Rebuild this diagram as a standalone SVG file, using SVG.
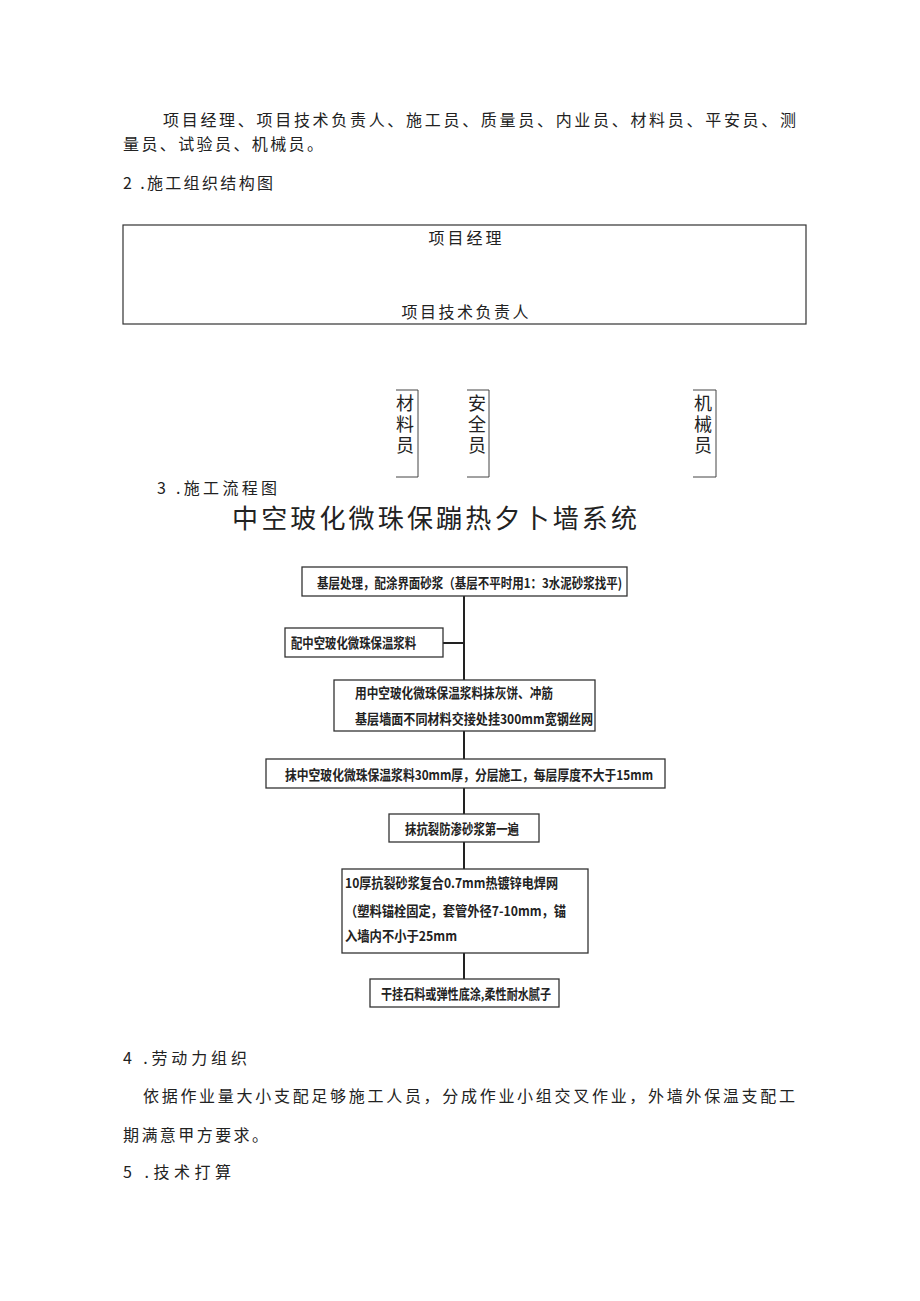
<svg xmlns="http://www.w3.org/2000/svg" width="920" height="1301" viewBox="0 0 920 1301">
<style>
.t{font-family:"Noto Sans CJK SC","Noto Sans CJK JP",sans-serif;fill:#222;font-size:16px}
.f{font-family:"Noto Sans CJK SC","Noto Sans CJK JP",sans-serif;fill:#222;font-size:13.5px;font-weight:bold}
.v{font-family:"Noto Sans CJK SC","Noto Sans CJK JP",sans-serif;fill:#222;font-size:18px;writing-mode:vertical-rl;letter-spacing:3px}
.b{fill:#fff;stroke:#333;stroke-width:1.3}
.c{fill:none;stroke:#222;stroke-width:2}
.o{fill:none;stroke:#444;stroke-width:1}
</style>
<rect width="920" height="1301" fill="#fff"/>
<g id="text-top">
<text class="t" x="163" y="126" textLength="633" lengthAdjust="spacing">项目经理、项目技术负责人、施工员、质量员、内业员、材料员、平安员、测</text>
<text class="t" x="123" y="150" textLength="200" lengthAdjust="spacing">量员、试验员、机械员。</text>
<text class="t" x="123" y="189" textLength="150" lengthAdjust="spacing">2 .施工组织结构图</text>
</g>
<g id="org-box">
<rect x="123" y="225" width="683" height="99" fill="none" stroke="#333" stroke-width="1.2"/>
<text class="t" x="465" y="244" text-anchor="middle" textLength="73" lengthAdjust="spacing">项目经理</text>
<text class="t" x="465" y="318" text-anchor="middle" textLength="127" lengthAdjust="spacing">项目技术负责人</text>
</g>
<g id="node-cailiao">
<path class="o" d="M396,390 H418 V477 H396"/>
<text class="v" x="405" y="394">材料员</text>
</g>
<g id="node-anquan">
<path class="o" d="M467,390 H489 V477 H467"/>
<text class="v" x="477" y="394">安全员</text>
</g>
<g id="node-jixie">
<path class="o" d="M693,390 H716 V477 H693"/>
<text class="v" x="703" y="394">机械员</text>
</g>
<g id="section3">
<text class="t" x="157" y="494" textLength="120" lengthAdjust="spacing">3 .施工流程图</text>
<text class="t" x="232" y="528" style="font-size:26px" textLength="405" lengthAdjust="spacing">中空玻化微珠保蹦热夕卜墙系统</text>
</g>
<g id="connectors">
<line class="c" x1="464" y1="596" x2="464" y2="680"/>
<line class="c" x1="443" y1="643" x2="464" y2="643"/>
<line class="c" x1="464" y1="731" x2="464" y2="759"/>
<line class="c" x1="464" y1="788" x2="464" y2="814"/>
<line class="c" x1="464" y1="842" x2="464" y2="869"/>
<line class="c" x1="464" y1="953" x2="464" y2="979"/>
</g>
<g id="step1">
<rect class="b" x="302" y="567" width="325" height="29"/>
<text class="f" x="317" y="588" textLength="305" lengthAdjust="spacingAndGlyphs">基层处理，配涂界面砂浆（基层不平时用1：3水泥砂浆找平)</text>
</g>
<g id="step2">
<rect class="b" x="285" y="628" width="158" height="29"/>
<text class="f" x="291" y="648" textLength="125" lengthAdjust="spacingAndGlyphs">配中空玻化微珠保温浆料</text>
</g>
<g id="step3">
<rect class="b" x="334" y="680" width="261" height="51"/>
<text class="f" x="355" y="698" textLength="198" lengthAdjust="spacingAndGlyphs">用中空玻化微珠保温浆料抹灰饼、冲筋</text>
<text class="f" x="355" y="724" textLength="238" lengthAdjust="spacingAndGlyphs">基层墙面不同材料交接处挂300mm宽钢丝网</text>
</g>
<g id="step4">
<rect class="b" x="266" y="759" width="399" height="29"/>
<text class="f" x="285" y="780" textLength="368" lengthAdjust="spacingAndGlyphs">抹中空玻化微珠保温浆料30mm厚，分层施工，每层厚度不大于15mm</text>
</g>
<g id="step5">
<rect class="b" x="389" y="814" width="150" height="28"/>
<text class="f" x="405" y="834" textLength="114" lengthAdjust="spacingAndGlyphs">抹抗裂防渗砂浆第一遍</text>
</g>
<g id="step6">
<rect class="b" x="342" y="869" width="246" height="84"/>
<text class="f" x="345" y="888" textLength="213" lengthAdjust="spacingAndGlyphs">10厚抗裂砂浆复合0.7mm热镀锌电焊网</text>
<text class="f" x="345" y="916" textLength="221" lengthAdjust="spacingAndGlyphs">（塑料锚栓固定，套管外径7-10mm，锚</text>
<text class="f" x="345" y="941" textLength="112" lengthAdjust="spacingAndGlyphs">入墙内不小于25mm</text>
</g>
<g id="step7">
<rect class="b" x="370" y="979" width="189" height="28"/>
<text class="f" x="381" y="999" textLength="170" lengthAdjust="spacingAndGlyphs">干挂石料或弹性底涂,柔性耐水腻子</text>
</g>
<g id="text-bottom">
<text class="t" x="123" y="1064" textLength="124" lengthAdjust="spacing">4 .劳动力组织</text>
<text class="t" x="143" y="1102" textLength="652" lengthAdjust="spacing">依据作业量大小支配足够施工人员，分成作业小组交叉作业，外墙外保温支配工</text>
<text class="t" x="123" y="1141" textLength="145" lengthAdjust="spacing">期满意甲方要求。</text>
<text class="t" x="123" y="1178" textLength="108" lengthAdjust="spacing">5 .技术打算</text>
</g>
</svg>
